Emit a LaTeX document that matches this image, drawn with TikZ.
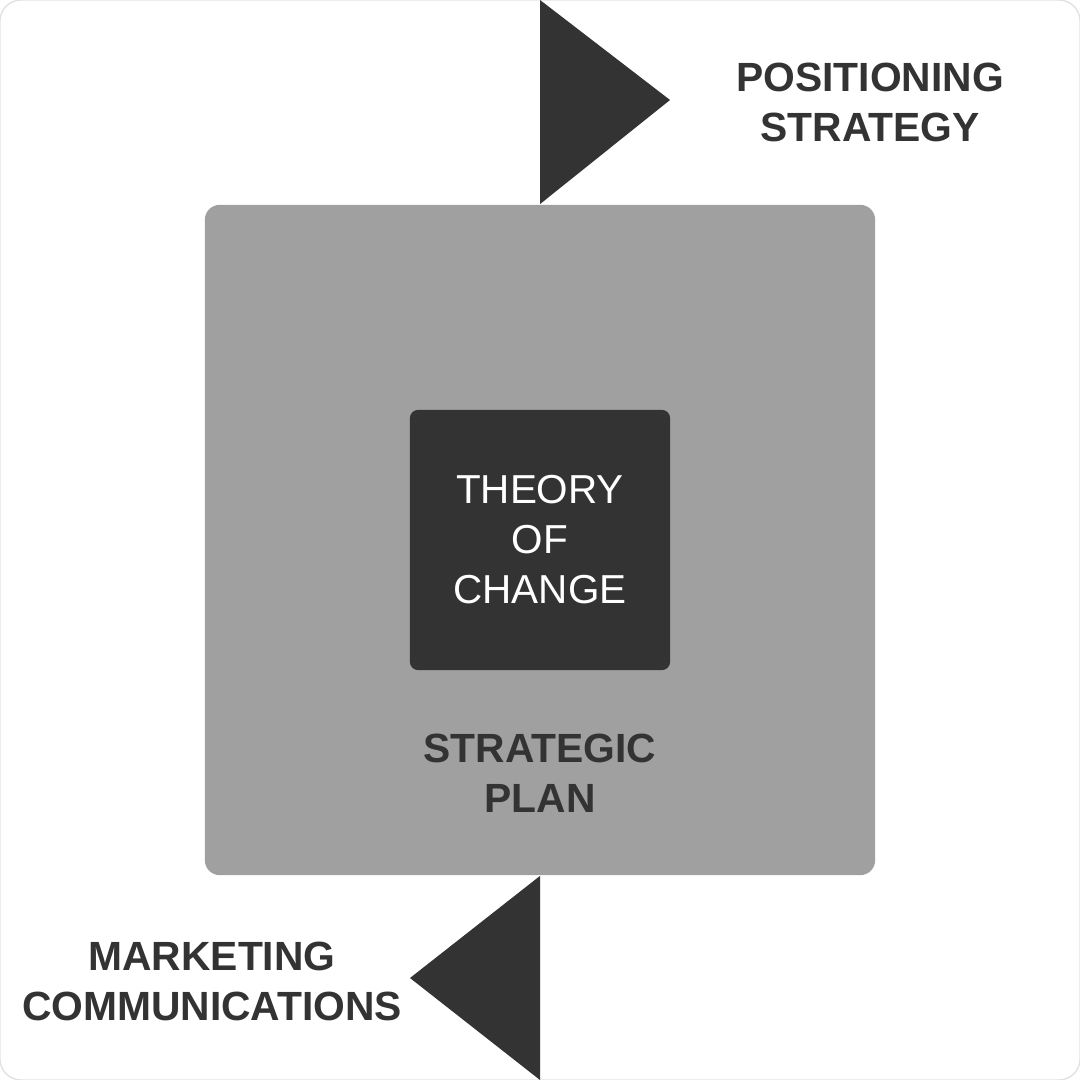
\documentclass[tikz,border=0pt]{standalone}
\usepackage{fontspec}
\setmainfont{Liberation Sans}
\usepackage{xcolor}
\usepackage{tikz}
\usetikzlibrary{calc,backgrounds}

\definecolor{darkbox}{HTML}{333333}
\definecolor{planbox}{HTML}{A0A0A0}
\definecolor{edgegray}{HTML}{E2E2E2}

\tikzset{
  outer label/.style={font=\bfseries\fontsize{11.6}{14.2}\selectfont, text=darkbox, align=center},
  inner label/.style={font=\fontsize{11.5}{14.2}\selectfont, text=white, align=center}
}

\begin{document}
\begin{tikzpicture}[x=0.01cm,y=-0.01cm]
\useasboundingbox (0,0) rectangle (1080,1080);
\draw [edgegray, line width=0.4pt, fill=white, rounded corners=6pt] (0,0) rectangle (1080,1080);

\node [fill=planbox, rounded corners=4.3pt, minimum width=6.7cm, minimum height=6.7cm, inner sep=0pt] (plan) at (540,540) {};
\node [fill=darkbox, rounded corners=2.3pt, minimum width=2.6cm, minimum height=2.6cm, inner sep=0pt, inner label] (theory) at (540,540) {THEORY\\OF\\CHANGE};
\node [outer label] (plantext) at (540,773) {STRATEGIC\\PLAN};

\coordinate (toptip) at (670,100);
\coordinate (bottip) at (410,978);
\fill [darkbox] (plan.north) -- (540,0) -- (toptip) -- cycle;
\fill [darkbox] (plan.south) -- (540,1080) -- (bottip) -- cycle;

\node [outer label] (positioning) at (870,102) {POSITIONING\\STRATEGY};
\node [outer label] (marketing) at (212,981) {MARKETING\\COMMUNICATIONS};

\end{tikzpicture}
\end{document}
